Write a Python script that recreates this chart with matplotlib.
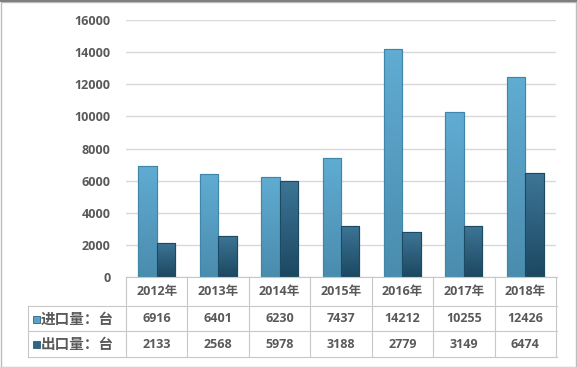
import matplotlib.pyplot as plt
import matplotlib as mpl
import numpy as np
from matplotlib.transforms import blended_transform_factory
from matplotlib.patches import Rectangle
from matplotlib.lines import Line2D
from matplotlib.colors import LinearSegmentedColormap

years = ['2012年', '2013年', '2014年', '2015年', '2016年', '2017年', '2018年']
imports = [6916, 6401, 6230, 7437, 14212, 10255, 12426]
exports = [2133, 2568, 5978, 3188, 2779, 3149, 6474]
row_labels = ['进口量：台', '出口量：台']
yticks = [0, 2000, 4000, 6000, 8000, 10000, 12000, 14000, 16000]

imp_color = '#5aa3c6'
exp_color = '#2f6685'
text_color = '#595959'
grid_color = '#d9d9d9'

mpl.rcParams['font.family'] = ['Open Sans', 'Noto Sans CJK SC', 'DejaVu Sans']

W, H = 577, 367
fig = plt.figure(figsize=(W / 100, H / 100), dpi=100)
ax = fig.add_axes([126 / W, 1 - 277 / H, 430 / W, 257 / H])

x = list(range(len(years)))
bw = 0.3
b1 = ax.bar([i - bw / 2 for i in x], imports, bw, color=imp_color,
            edgecolor='#3f86a8', linewidth=0.8, zorder=3)
b2 = ax.bar([i + bw / 2 for i in x], exports, bw, color=exp_color,
            edgecolor='#1d4a63', linewidth=0.8, zorder=3)

ax.set_xlim(-0.5, len(years) - 0.5)
ax.set_ylim(0, 16000)

# soft gradient inside the bars (lighter at top, darker at bottom)
grad = np.linspace(1, 0, 64).reshape(-1, 1)
cm_imp = LinearSegmentedColormap.from_list('imp', ['#4a8cae', '#60acd2'])
cm_exp = LinearSegmentedColormap.from_list('exp', ['#1c4861', '#3d7596'])
for bars, cm in ((b1, cm_imp), (b2, cm_exp)):
    for p in bars:
        x0, y0 = p.get_x(), p.get_y()
        im = ax.imshow(grad, cmap=cm, aspect='auto', zorder=3.5,
                       extent=(x0, x0 + p.get_width(), y0, y0 + p.get_height()))
        im.set_clip_path(p)
        edge = Rectangle((x0, y0), p.get_width(), p.get_height(), fill=False,
                         edgecolor=p.get_edgecolor(), linewidth=0.8, zorder=4)
        ax.add_patch(edge)
ax.set_xlim(-0.5, len(years) - 0.5)
ax.set_ylim(0, 16000)

ax.set_yticks(yticks)
ax.set_yticklabels([str(v) for v in yticks], fontsize=9, fontweight='bold',
                   color=text_color)
ax.tick_params(axis='y', length=0, pad=11)
ax.set_xticks([])
ax.grid(axis='y', color=grid_color, linewidth=1, zorder=0)
for s in ax.spines.values():
    s.set_visible(False)

# data table under the plot
tr = blended_transform_factory(ax.transData, fig.transFigure)
def fy(py):
    return 1 - py / H

line_kw = dict(color='#c8c8c8', linewidth=0.8)
row_tops = [277, 306, 331, 357]
fig.add_artist(Line2D([126 / W, 557 / W], [fy(277)] * 2, **line_kw))
for py in row_tops[1:]:
    fig.add_artist(Line2D([28 / W, 557 / W], [fy(py)] * 2, **line_kw))
fig.add_artist(Line2D([28 / W] * 2, [fy(306), fy(357)], **line_kw))
for i in range(len(years) + 1):
    xp = (126 + i * 430 / len(years)) / W
    fig.add_artist(Line2D([xp] * 2, [fy(277), fy(357)], **line_kw))

for i, yr in enumerate(years):
    ax.text(i, fy(292), yr, transform=tr, ha='center', va='center',
            fontsize=9, fontweight='bold', color=text_color)
    ax.text(i, fy(319), str(imports[i]), transform=tr, ha='center', va='center',
            fontsize=9, fontweight='bold', color=text_color)
    ax.text(i, fy(344), str(exports[i]), transform=tr, ha='center', va='center',
            fontsize=9, fontweight='bold', color=text_color)

for lab, col, py in zip(row_labels, [imp_color, exp_color], [319, 344]):
    fig.add_artist(Rectangle((33 / W, fy(py + 3.5)), 7 / W, 7 / H,
                             transform=fig.transFigure, facecolor=col,
                             edgecolor='#1d4a63', linewidth=0.5))
    fig.text(41 / W, fy(py), lab, ha='left', va='center', fontsize=10.5,
             fontweight='bold', color=text_color,
             family=['Noto Sans CJK SC', 'DejaVu Sans'])

# outer frame
fig.add_artist(Rectangle((0.5 / W, 0.5 / H), (W - 2) / W, (H - 2) / H,
                         transform=fig.transFigure, fill=False,
                         edgecolor='#bdbdbd', linewidth=1))
fig.add_artist(Line2D([0, 1], [fy(1), fy(1)], color='#7f7f7f', linewidth=1.5))

fig.savefig('out.png', dpi=100)
